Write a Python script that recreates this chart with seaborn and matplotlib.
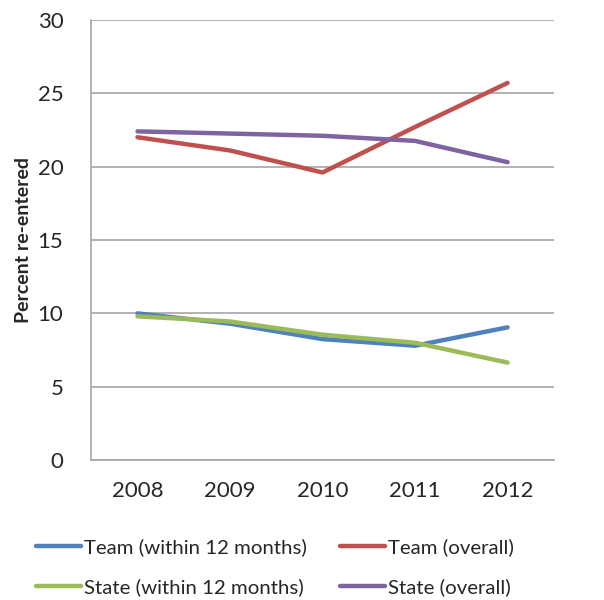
import numpy as np
import matplotlib
matplotlib.use("Agg")
import matplotlib.pyplot as plt
import seaborn as sns
import pandas as pd

years = ["2008", "2009", "2010", "2011", "2012"]
team_12m = [10.0, 9.3, 8.25, 7.8, 9.05]
team_overall = [22.0, 21.1, 19.6, 22.7, 25.7]
state_12m = [9.8, 9.45, 8.55, 8.0, 6.65]
state_overall = [22.4, 22.25, 22.1, 21.75, 20.3]

series = {
    "Team (within 12 months)": team_12m,
    "Team (overall)": team_overall,
    "State (within 12 months)": state_12m,
    "State (overall)": state_overall,
}
colors = {
    "Team (within 12 months)": "#4F81BD",
    "Team (overall)": "#C0504D",
    "State (within 12 months)": "#9BBB59",
    "State (overall)": "#8064A2",
}

rows = []
for name, vals in series.items():
    for yr, v in zip(years, vals):
        rows.append({"year": yr, "value": v, "series": name})
df = pd.DataFrame(rows)

sns.set_style("white")
plt.rcParams["font.family"] = ["Lato", "DejaVu Sans"]

fig = plt.figure(figsize=(6.04, 6.0), dpi=100)
ax = fig.add_axes([0.151, 0.233, 0.766, 0.734])

sns.lineplot(data=df, x="year", y="value", hue="series", palette=colors,
             linewidth=3.2, ax=ax, legend=False, sort=False)

ax.set_ylim(0, 30)
ax.set_xlim(-0.5, 4.5)
ax.set_yticks(range(0, 31, 5))
ax.yaxis.grid(True, color="#A6A6A6", linewidth=1.2)
ax.set_axisbelow(True)
for s in ["top", "right"]:
    ax.spines[s].set_visible(False)
for s in ["left", "bottom"]:
    ax.spines[s].set_color("#A6A6A6")
    ax.spines[s].set_linewidth(1.2)
ax.tick_params(axis="both", length=0, labelsize=16, colors="#262626", pad=15)
ax.tick_params(axis="y", pad=20)
ax.set_xlabel("")
ax.set_ylabel("Percent re-entered", fontsize=14, fontweight="bold", labelpad=4)

order = ["Team (within 12 months)", "State (within 12 months)",
         "Team (overall)", "State (overall)"]
handles = [plt.Line2D([], [], color=colors[n], linewidth=3.2, solid_capstyle="round") for n in order]
fig.legend(handles, order, ncol=2, loc="lower left", bbox_to_anchor=(0.03, -0.024),
           frameon=False, fontsize=14.7, handlelength=2.2, handletextpad=0.15,
           columnspacing=1.6, labelspacing=1.1, labelcolor="#262626")

fig.savefig("out.png", dpi=100)
